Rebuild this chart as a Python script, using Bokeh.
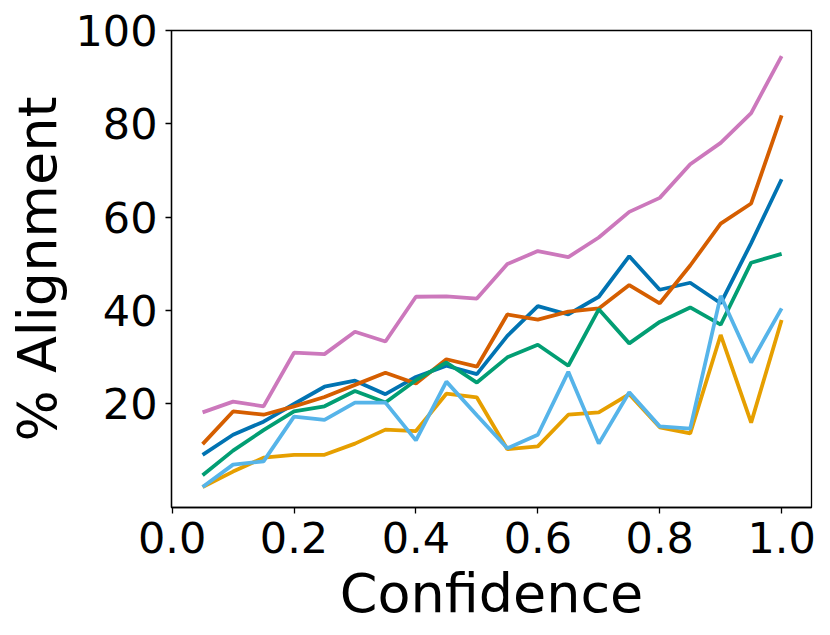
from bokeh.plotting import figure
from bokeh.models import Range1d, FixedTicker, CustomJSTickFormatter
from bokeh.embed import file_html
from bokeh.resources import INLINE

confidence = [0.05, 0.10, 0.15, 0.20, 0.25, 0.30, 0.35, 0.40, 0.45, 0.50,
              0.55, 0.60, 0.65, 0.70, 0.75, 0.80, 0.85, 0.90, 0.95, 1.00]

pink_series = [18.1, 20.4, 19.4, 30.9, 30.6, 35.4, 33.3, 42.9, 43.0, 42.5,
               49.9, 52.7, 51.4, 55.6, 61.1, 64.1, 71.3, 75.9, 82.3, 94.5]
vermillion_series = [11.3, 18.3, 17.6, 19.4, 21.4, 24.0, 26.6, 24.3, 29.5, 27.9,
                     39.1, 38.0, 39.7, 40.4, 45.4, 41.5, 49.6, 58.6, 62.9, 81.8]
blue_series = [9.0, 13.3, 16.1, 19.9, 23.6, 24.9, 22.0, 25.7, 28.1, 26.3,
               34.5, 40.9, 39.1, 42.9, 51.6, 44.4, 45.9, 41.5, 54.4, 68.1]
green_series = [4.6, 9.9, 14.3, 18.3, 19.4, 22.7, 20.2, 25.0, 28.8, 24.5,
                29.9, 32.6, 28.1, 40.2, 32.9, 37.5, 40.6, 36.9, 50.2, 52.1]
yellow_series = [2.1, 5.4, 8.4, 9.0, 9.0, 11.4, 14.4, 14.1, 22.1, 21.3,
                 10.2, 10.8, 17.6, 18.1, 22.0, 14.9, 13.6, 34.7, 15.9, 37.9]
sky_series = [2.1, 6.9, 7.6, 17.2, 16.5, 20.2, 20.2, 12.1, 24.7, 17.5,
              10.4, 13.3, 26.8, 11.4, 22.4, 15.1, 14.6, 43.1, 28.8, 40.4]

x_ticks = [0.0, 0.2, 0.4, 0.6, 0.8, 1.0]
y_ticks = [20, 40, 60, 80, 100]

series = [
    (blue_series, "#0173B2"),
    (vermillion_series, "#D55E00"),
    (green_series, "#029E73"),
    (pink_series, "#CC78BC"),
    (yellow_series, "#E69F00"),
    (sky_series, "#56B4E9"),
]

p = figure(width=822, height=627, output_backend="svg", toolbar_location=None,
           x_range=Range1d(-0.001, 1.049), y_range=Range1d(-2.3, 100))

for ys, col in series:
    p.line(confidence, ys, line_color=col, line_width=3.8)

p.xgrid.visible = False
p.ygrid.visible = False
p.outline_line_color = "black"
p.outline_line_width = 1.3
p.outline_line_alpha = 1.0

p.xaxis.ticker = FixedTicker(ticks=x_ticks)
p.yaxis.ticker = FixedTicker(ticks=y_ticks)
p.xaxis.formatter = CustomJSTickFormatter(code="return tick.toFixed(1);")

for ax in (p.xaxis[0], p.yaxis[0]):
    ax.axis_line_color = "black"
    ax.axis_line_width = 1.3
    ax.major_tick_line_color = "black"
    ax.major_tick_line_width = 1.3
    ax.major_tick_out = 6
    ax.major_tick_in = 0
    ax.minor_tick_line_color = None
    ax.major_label_text_font = "DejaVu Sans"
    ax.major_label_text_font_size = "43px"
    ax.major_label_text_color = "black"
    ax.axis_label_text_font = "DejaVu Sans"
    ax.axis_label_text_font_size = "54px"
    ax.axis_label_text_font_style = "normal"
    ax.axis_label_text_color = "black"
    ax.major_label_standoff = 8

p.xaxis.axis_label = "Confidence"
p.yaxis.axis_label = "% Alignment"
p.xaxis.axis_label_standoff = 6
p.yaxis.axis_label_standoff = 3
p.yaxis.major_label_orientation = "horizontal"

p.min_border_left = 171
p.min_border_right = 11
p.min_border_top = 30
p.min_border_bottom = 120
p.background_fill_color = "white"
p.border_fill_color = "white"

open("out.html", "w").write(file_html(p, INLINE))
